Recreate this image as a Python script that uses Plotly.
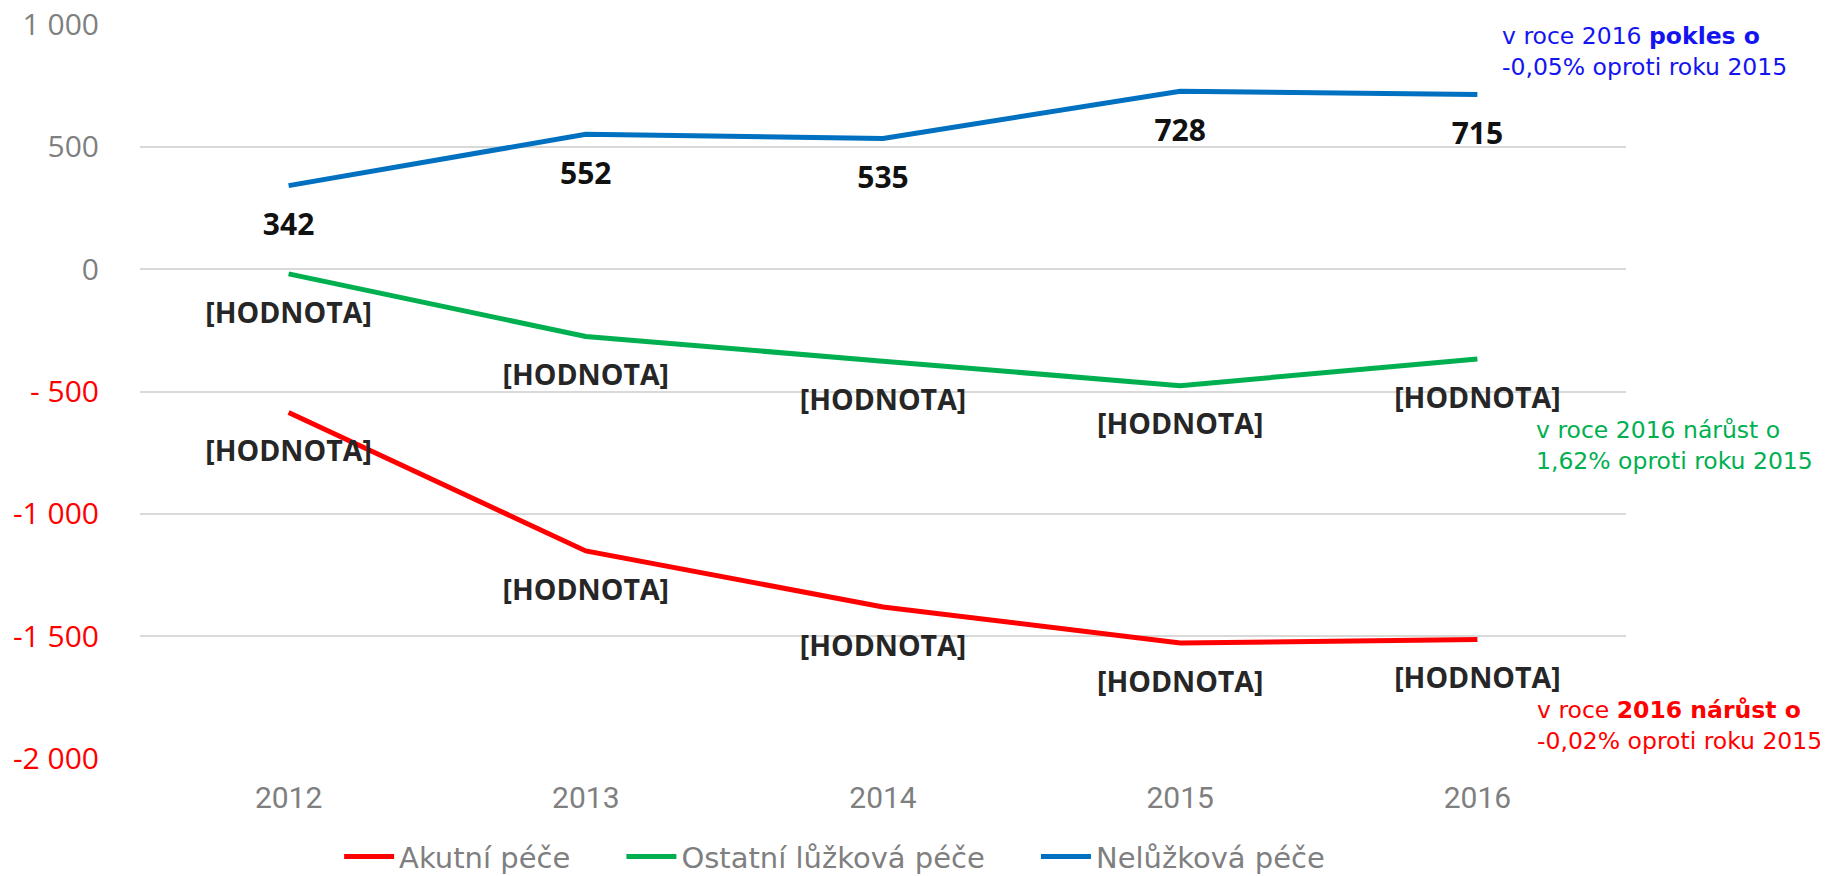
import plotly.graph_objects as go

years = ["2012", "2013", "2014", "2015", "2016"]
akutni = [-586, -1152, -1381, -1529, -1514]
ostatni = [-19, -275, -376, -476, -367]
neluzkova = [342, 552, 535, 728, 715]

series_names = ["Akutní péče", "Ostatní lůžková péče", "Nelůžková péče"]
series_colors = ["#FF0000", "#00B050", "#0070C0"]

ytick_vals = [1000, 500, 0, -500, -1000, -1500, -2000]
ytick_text = ["1 000", "500", "0", "- 500", "-1 000", "-1 500", "-2 000"]

NBSP = "&nbsp;" * 5

fig = go.Figure()
for name, vals, col in zip(series_names, [akutni, ostatni, neluzkova], series_colors):
    fig.add_trace(go.Scatter(x=years, y=vals, mode="lines", name=name + NBSP,
                             line=dict(color=col, width=5), hoverinfo="skip"))

# data labels (drawn below each point)
for vals, is_num in [(akutni, False), (ostatni, False), (neluzkova, True)]:
    if is_num:
        labels = [f"<b>{v}</b>" for v in vals]
        tf = dict(family="Open Sans", size=30, color="#111111")
    else:
        labels = ["<b>[HODNOTA]</b>" for _ in vals]
        tf = dict(family="Open Sans", size=28.5, color="#262626")
    fig.add_trace(go.Scatter(x=years, y=vals, mode="markers+text", text=labels,
                             textposition="bottom center", textfont=tf,
                             marker=dict(size=42, color="rgba(0,0,0,0)"),
                             showlegend=False, hoverinfo="skip", cliponaxis=False))

annotations = []
annotations.append(dict(xref="paper", yref="paper", x=0.915, y=0.963, xanchor="left", yanchor="middle",
                        align="left", showarrow=False,
                        text="v roce 2016 <b>pokles o</b><br>-0,05% oproti roku 2015",
                        font=dict(family="DejaVu Sans", size=23.5, color="#1414F0")))
annotations.append(dict(xref="paper", yref="paper", x=0.938, y=0.427, xanchor="left", yanchor="middle",
                        align="left", showarrow=False,
                        text="v roce 2016 nárůst o<br>1,62% oproti roku 2015",
                        font=dict(family="DejaVu Sans", size=23.5, color="#00B050")))
annotations.append(dict(xref="paper", yref="paper", x=0.939, y=0.045, xanchor="left", yanchor="middle",
                        align="left", showarrow=False,
                        text="v roce <b>2016 nárůst o</b><br>-0,02% oproti roku 2015",
                        font=dict(family="DejaVu Sans", size=23.5, color="#FF0000")))

colored_ticks = [f"<span style='color:{'#FF0000' if v < 0 else '#7F7F7F'}'>{t}</span>"
                 for v, t in zip(ytick_vals, ytick_text)]

fig.update_layout(
    width=1820, height=868,
    margin=dict(l=132, r=202, t=16, b=117, autoexpand=False),
    paper_bgcolor="white", plot_bgcolor="white",
    showlegend=True,
    legend=dict(orientation="h", x=0.134, xanchor="left", y=-0.133, yanchor="middle",
                font=dict(family="DejaVu Sans", size=29, color="#7F7F7F"),
                itemwidth=50, bgcolor="rgba(0,0,0,0)"),
    annotations=annotations,
    xaxis=dict(type="category", showgrid=False, zeroline=False, showline=False, ticks="",
               tickfont=dict(family="Roboto", size=30, color="#7F7F7F"), ticklabelstandoff=18,
               range=[-0.5, 4.5]),
    yaxis=dict(range=[-2003, 1003], tickvals=ytick_vals, ticktext=colored_ticks,
               showgrid=True, gridcolor="#D9D9D9", gridwidth=2, zeroline=False, showline=False,
               ticks="", tickfont=dict(family="Open Sans", size=30, color="#7F7F7F"),
               ticklabelstandoff=40, ticklabeloverflow="allow"),
)

fig.write_html("out.html")
